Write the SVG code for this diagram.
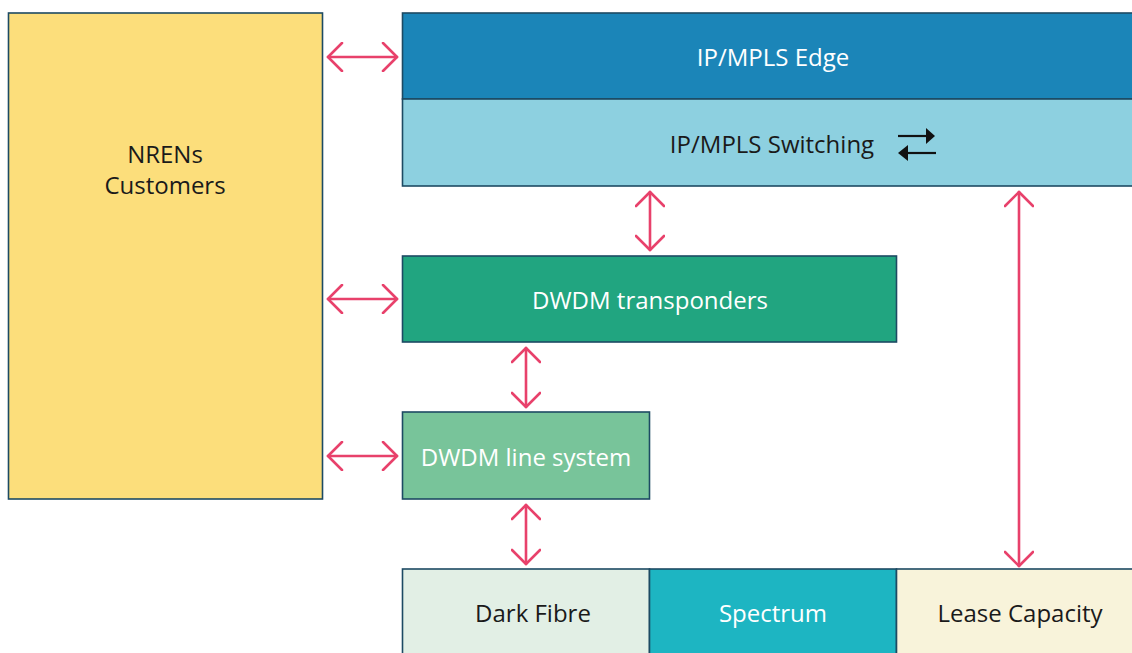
<svg xmlns="http://www.w3.org/2000/svg" width="1132" height="653" viewBox="0 0 1132 653">
<defs>
<style>
.box{stroke:#1d4a63;stroke-width:1.6}
.t{font-family:"Open Sans","Liberation Sans",sans-serif;font-size:24px;text-anchor:middle;dominant-baseline:central}
.w{fill:#ffffff}
.d{fill:#1a1a1a}
.c{stroke:#e8416b;stroke-width:2.6;fill:none;stroke-linecap:round;stroke-linejoin:round}
</style>
<marker id="ah" viewBox="0 0 20 30" refX="17" refY="15" markerWidth="20" markerHeight="30" markerUnits="userSpaceOnUse" orient="auto-start-reverse">
<path d="M3,1 L17,15 L3,29" fill="none" stroke="#e8416b" stroke-width="2.6" stroke-linecap="round" stroke-linejoin="round"/>
</marker>
</defs>
<rect width="1132" height="653" fill="#ffffff"/>
<g id="nrens">
<rect class="box" x="8.5" y="13" width="314" height="486" fill="#fcde7b"/>
<text class="t d" x="165" y="153.5">NRENs</text>
<text class="t d" x="165" y="184.5">Customers</text>
</g>
<g id="ipmpls-edge">
<rect class="box" x="402.5" y="13" width="735" height="86" fill="#1b85b8"/>
<text class="t w" x="773" y="56.5">IP/MPLS Edge</text>
</g>
<g id="ipmpls-switching">
<rect class="box" x="402.5" y="99" width="735" height="87" fill="#8dd0e0"/>
<text class="t d" x="772" y="143.5">IP/MPLS Switching</text>
<g id="swap-icon" fill="#111111" stroke="#111111">
<line x1="898" y1="136" x2="928" y2="136" stroke-width="2.2"/>
<path d="M926,128 L935,136 L926,144 Z" stroke="none"/>
<line x1="906" y1="153" x2="936" y2="153" stroke-width="2.2"/>
<path d="M908,145 L898,153 L908,161 Z" stroke="none"/>
</g>
</g>
<g id="dwdm-transponders">
<rect class="box" x="402.5" y="256" width="494" height="86" fill="#21a580"/>
<text class="t w" x="650" y="299.5">DWDM transponders</text>
</g>
<g id="dwdm-line-system">
<rect class="box" x="402.5" y="412" width="247" height="87" fill="#78c49a"/>
<text class="t w" x="526" y="456.5">DWDM line system</text>
</g>
<g id="dark-fibre">
<rect class="box" x="402.5" y="569" width="247" height="90" fill="#e2efe5"/>
<text class="t d" x="533" y="612.5">Dark Fibre</text>
</g>
<g id="spectrum">
<rect class="box" x="649.5" y="569" width="247" height="90" fill="#1db5c2"/>
<text class="t w" x="773" y="612.5">Spectrum</text>
</g>
<g id="lease-capacity">
<rect class="box" x="896.5" y="569" width="241" height="90" fill="#f8f3da"/>
<text class="t d" x="1020" y="612.5">Lease Capacity</text>
</g>
<g id="connectors">
<line class="c" x1="328" y1="57" x2="397" y2="57" marker-start="url(#ah)" marker-end="url(#ah)"/>
<line class="c" x1="328" y1="299" x2="397" y2="299" marker-start="url(#ah)" marker-end="url(#ah)"/>
<line class="c" x1="328" y1="456" x2="397" y2="456" marker-start="url(#ah)" marker-end="url(#ah)"/>
<line class="c" x1="650" y1="192" x2="650" y2="250" marker-start="url(#ah)" marker-end="url(#ah)"/>
<line class="c" x1="526" y1="348" x2="526" y2="407" marker-start="url(#ah)" marker-end="url(#ah)"/>
<line class="c" x1="526" y1="505" x2="526" y2="564" marker-start="url(#ah)" marker-end="url(#ah)"/>
<line class="c" x1="1019" y1="192" x2="1019" y2="566" marker-start="url(#ah)" marker-end="url(#ah)"/>
</g>
</svg>
